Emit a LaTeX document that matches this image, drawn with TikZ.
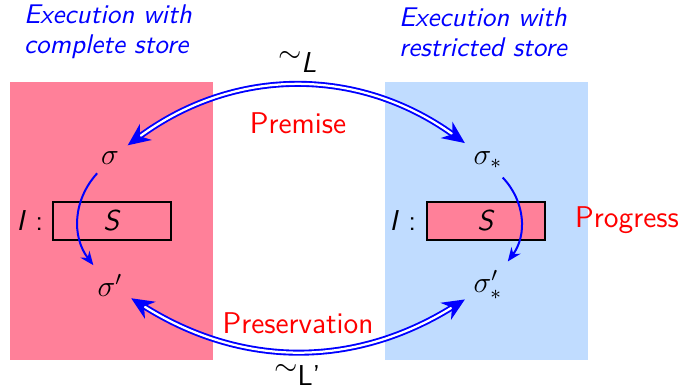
\documentclass[tikz,border=0pt]{standalone}
\usepackage{tikz}
\usetikzlibrary{positioning}
\usetikzlibrary{arrows.meta}

\definecolor{storepink}{RGB}{255,128,153}
\definecolor{storeblue}{RGB}{192,220,255}

\begin{document}
\begin{tikzpicture}[x=0.4pt, y=0.4pt, font=\sffamily\fontsize{11.5}{13}\selectfont,
    stmtbox/.style={draw, thick, minimum width=47pt, minimum height=15pt, inner sep=0pt},
    title/.style={blue, align=left, font=\sffamily\itshape\fontsize{10.8}{12}\selectfont},
    rule/.style={red, font=\sffamily\fontsize{12}{14}\selectfont},
    relarrow/.style={blue, line width=0.75pt, double=white, double distance=0.9pt,
        {Stealth[length=9pt, width=8pt]}-{Stealth[length=9pt, width=8pt]}},
    steparrow/.style={blue, line width=0.8pt, -{Stealth[length=5.5pt, width=4.5pt]}}]
        \useasboundingbox (0,0) rectangle (681,389);

        % Zustaende (Speicher)
        \fill[storepink] (10,29) rectangle (213,307);
        \fill[storeblue] (385,29) rectangle (588,307);

        % Ueberschriften
        \node[title] (tl) at (108,357) {Execution with\\complete store};
        \node[title] (tr) at (483,357) {Execution with\\restricted store};

        % Anweisungen
        \node[stmtbox] (bl) at (112,168) {\textit{S}};
        \node[stmtbox, fill=storepink] (br) at (486,168) {\textit{S}};
        \node (il) at (30,168) {\textit{I} :};
        \node (ir) at (403,168) {\textit{I} :};

        % Zustaende
        \node (s) at (110,231) {$\sigma$};
        \node (ss) at (488,229) {$\sigma_*$};
        \node (sp) at (110,104) {$\sigma'$};
        \node (ssp) at (488,104) {$\sigma'_*$};

        % Schritte
        \draw[steparrow] (s) to[bend right=40] (sp);
        \draw[steparrow] (ss) to[bend left=40] (ssp);

        % Relationen
        \draw[relarrow] (s) to[bend left=36] (ss);
        \draw[relarrow] (sp) to[bend right=32] (ssp);
        \node (lo) at (298,327) {$\sim_{\textit{L}}$};
        \node (lu) at (298,14) {$\sim_{\textsf{L'}}$};

        % Regeln
        \node[rule] (pre) at (298,266) {Premise};
        \node[rule] (pres) at (298,66) {Preservation};
        \node[rule] (prog) at (627,169) {Progress};

    \end{tikzpicture}
\end{document}
